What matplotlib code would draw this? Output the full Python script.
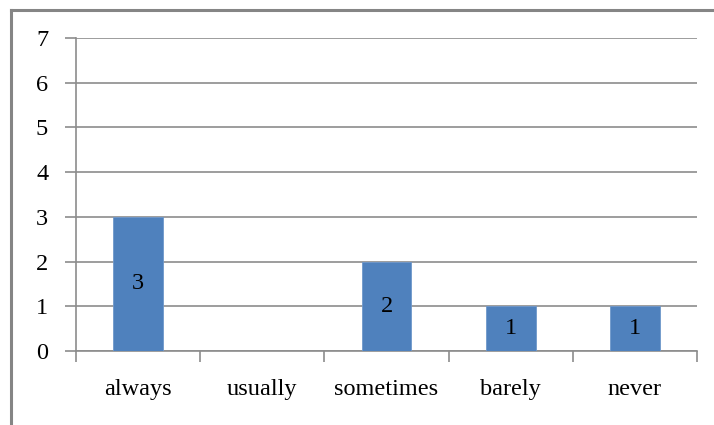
import matplotlib.pyplot as plt
from matplotlib.lines import Line2D
import numpy as np

plt.rcParams['font.family'] = ['Liberation Serif', 'DejaVu Serif']

# Survey answers and their counts
categories = ['always', 'usually', 'sometimes', 'barely', 'never']
counts = [3, 0, 2, 1, 1]

bar_color = '#4F81BD'
grid_color = '#8C8C8C'
fs = 17.5

fig = plt.figure(figsize=(7.14, 4.25), dpi=100)
ax = fig.add_axes([76 / 714, 1 - 351 / 425, (697 - 76) / 714, (351 - 38) / 425])

x = np.arange(len(categories))
bars = ax.bar(x, counts, width=0.4, color=bar_color, edgecolor='#6F98CB',
              linewidth=0.6, zorder=3)

# Value labels in the middle of each non-empty bar
for xi, c in zip(x, counts):
    if c > 0:
        ax.text(xi, c / 2, str(c), ha='center', va='center', fontsize=fs,
                color='black', zorder=4)

ax.set_xlim(-0.5, len(categories) - 0.5)
ax.set_ylim(0, 7)
ax.set_yticks(range(0, 8))
ax.yaxis.grid(True, color=grid_color, linewidth=1.2, zorder=0)
ax.set_axisbelow(True)

# Category labels sit between the boundary tick marks
ax.set_xticks(x)
ax.set_xticklabels(categories, fontsize=fs)
ax.tick_params(axis='x', length=0, pad=20)
ax.set_xticks(np.arange(len(categories) + 1) - 0.5, minor=True)
ax.tick_params(axis='x', which='minor', length=8, color=grid_color, width=1.2)
ax.tick_params(axis='y', length=8, color=grid_color, width=1.2, pad=12,
               labelsize=fs)

for side in ['top', 'right']:
    ax.spines[side].set_visible(False)
for side in ['left', 'bottom']:
    ax.spines[side].set_color(grid_color)
    ax.spines[side].set_linewidth(1.2)

# Chart frame (top and left edges)
fig.add_artist(Line2D([11.5 / 714, 1], [1 - 9.5 / 425, 1 - 9.5 / 425],
                      transform=fig.transFigure, color='#858585', linewidth=2.2))
fig.add_artist(Line2D([11.5 / 714, 11.5 / 714], [0, 1 - 9.5 / 425],
                      transform=fig.transFigure, color='#858585', linewidth=2.2))

fig.savefig('out.png', dpi=100)
